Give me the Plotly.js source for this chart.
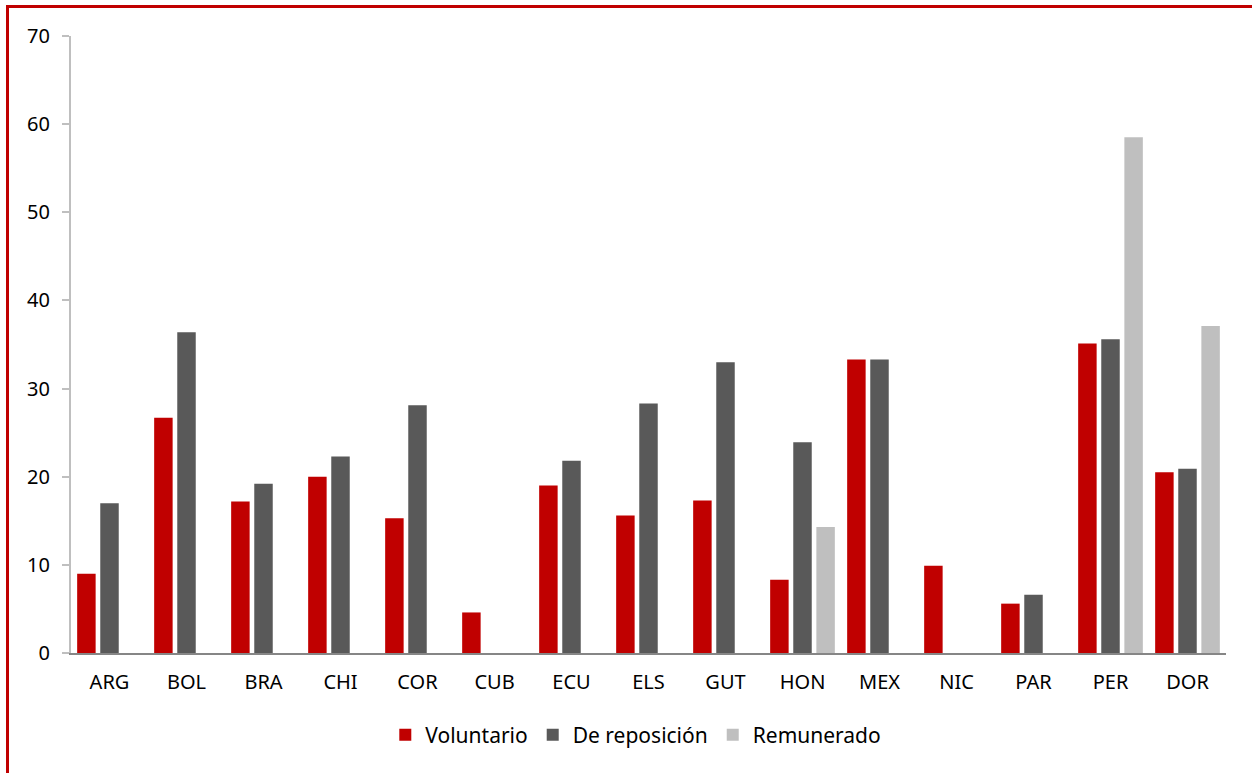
<!DOCTYPE html>
<html>
<head>
<meta charset="utf-8">
<script src="https://cdn.plot.ly/plotly-3.0.1.min.js"></script>
<style>
html,body{margin:0;padding:0;background:#fff;overflow:hidden;width:1252px;height:773px;}
#frame{position:absolute;left:6px;top:5px;width:1400px;height:900px;border:3px solid #c00000;box-sizing:border-box;}
#chart{position:absolute;left:0;top:0;width:1252px;height:773px;}
</style>
</head>
<body>
<div id="frame"></div>
<div id="chart"></div>
<script>
const categories = ["ARG","BOL","BRA","CHI","COR","CUB","ECU","ELS","GUT","HON","MEX","NIC","PAR","PER","DOR"];
const voluntario   = [9.0, 26.7, 17.2, 20.0, 15.3, 4.6, 19.0, 15.6, 17.3, 8.3, 33.3, 9.9, 5.6, 35.1, 20.5];
const reposicion   = [17.0, 36.4, 19.2, 22.3, 28.1, null, 21.8, 28.3, 33.0, 23.9, 33.3, null, 6.6, 35.6, 20.9];
const remunerado   = [null, null, null, null, null, null, null, null, null, 14.3, null, null, null, 58.5, 37.1];
const seriesNames  = ["Voluntario", "De reposición", "Remunerado"];
const yTicks = [0,10,20,30,40,50,60,70];

const colors = ["#c00000", "#595959", "#bfbfbf"];
const font = {family: "Noto Sans, Open Sans, sans-serif", size: 20, color: "#000"};

const traces = [voluntario, reposicion, remunerado].map((vals, i) => ({
  type: "bar",
  name: seriesNames[i],
  x: categories,
  y: vals,
  marker: {color: colors[i]},
  hoverinfo: "x+y+name"
}));

const layout = {
  width: 1252, height: 773,
  margin: {l: 71, r: 26, t: 36, b: 120},
  paper_bgcolor: "rgba(0,0,0,0)",
  plot_bgcolor: "rgba(0,0,0,0)",
  barmode: "group",
  bargap: 0.1,
  bargroupgap: 0.2,
  font: font,
  showlegend: true,
  legend: {orientation: "h", x: 0.489, xanchor: "center", y: -0.133, yanchor: "middle",
           font: {family: font.family, size: 21, color: "#000"}, itemwidth: 20, traceorder: "normal"},
  xaxis: {
    type: "category",
    showline: true, linecolor: "#868686", linewidth: 2,
    ticks: "", showgrid: false, zeroline: false,
    tickfont: font, ticklabelstandoff: 10
  },
  yaxis: {
    range: [0, 70],
    tickvals: yTicks,
    showline: true, linecolor: "#bfbfbf", linewidth: 2,
    ticks: "outside", ticklen: 7, tickcolor: "#bfbfbf", tickwidth: 2,
    showgrid: false, zeroline: false,
    tickfont: font, ticklabelstandoff: 8
  }
};

Plotly.newPlot("chart", traces, layout, {displayModeBar: false, staticPlot: true});
</script>
</body>
</html>
